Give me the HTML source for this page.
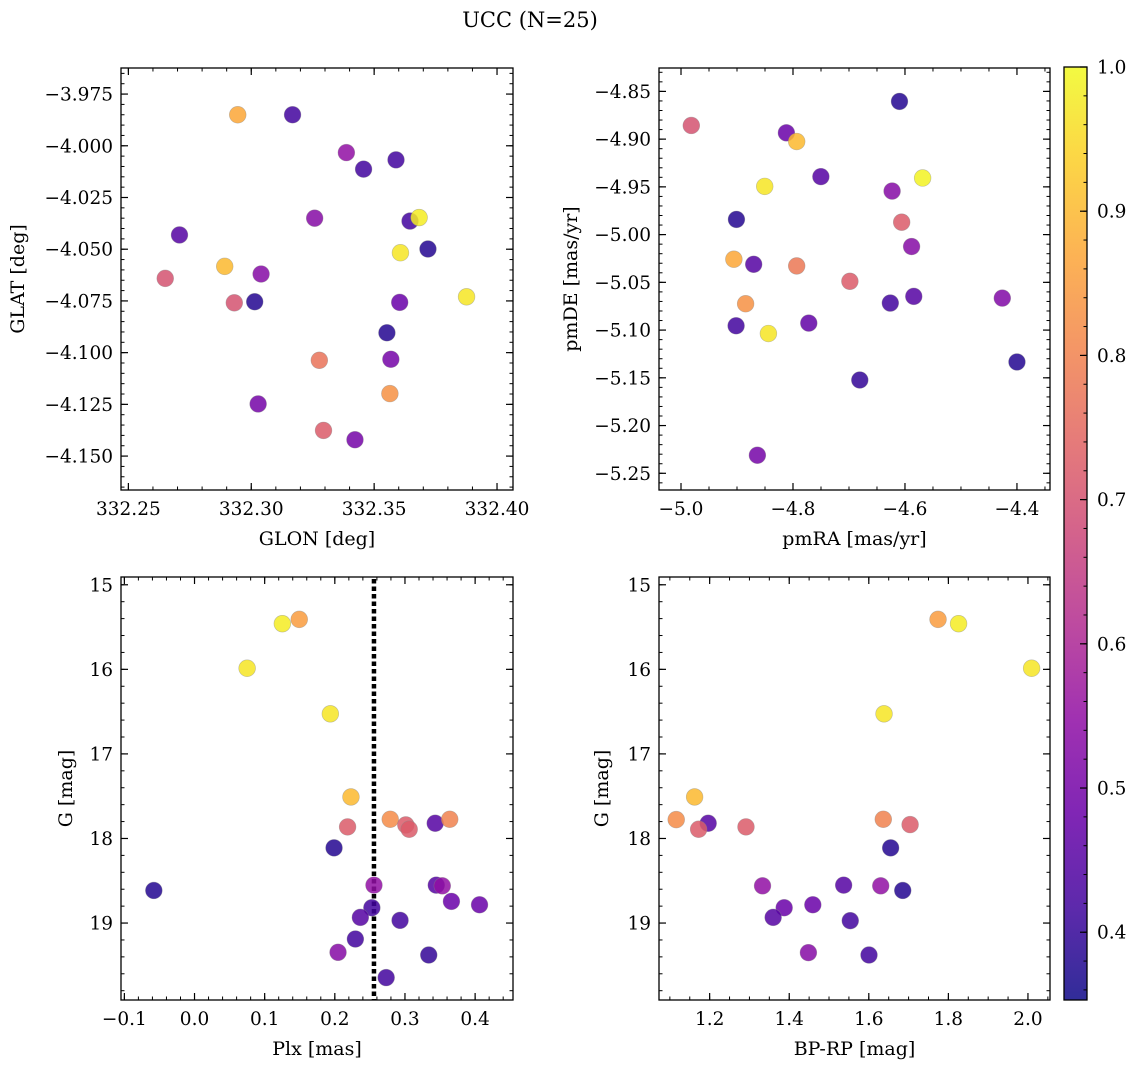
<!DOCTYPE html>
<html><head><meta charset="utf-8"><style>
body{margin:0;background:#fff;}
svg{display:block;font-family:"DejaVu Serif","Liberation Serif",serif;}
</style></head><body>
<svg id="fig" width="1136" height="1067" viewBox="0 0 1136 1067" xmlns="http://www.w3.org/2000/svg">
<defs>
<linearGradient id="plasma" x1="0" y1="1" x2="0" y2="0">
<stop offset="0" stop-color="#0d0887"/><stop offset="0.1" stop-color="#41049d"/><stop offset="0.2" stop-color="#6a00a8"/><stop offset="0.3" stop-color="#8f0da4"/><stop offset="0.4" stop-color="#b12a90"/><stop offset="0.5" stop-color="#cc4778"/><stop offset="0.6" stop-color="#e16462"/><stop offset="0.7" stop-color="#f2844b"/><stop offset="0.8" stop-color="#fca636"/><stop offset="0.9" stop-color="#fcce25"/><stop offset="1" stop-color="#f0f921"/>
</linearGradient>
</defs>
<text x="530" y="27" font-size="21" text-anchor="middle">UCC (N=25)</text>
</svg>
<script>
// ---- data ----
const glon = [332.2945,332.3168,332.3387,332.3589,332.3457,332.3258,332.3646,332.3683,332.2708,332.3719,332.3607,332.2892,332.3040,332.2650,332.2931,332.3014,332.3604,332.3876,332.3552,332.3277,332.3568,332.3564,332.3028,332.3294,332.3422];
const glat = [-3.985,-3.985,-4.0033,-4.0068,-4.0113,-4.035,-4.0364,-4.0347,-4.0431,-4.0499,-4.0517,-4.0583,-4.062,-4.0641,-4.0759,-4.0754,-4.0757,-4.073,-4.0904,-4.1037,-4.1032,-4.1198,-4.1248,-4.1376,-4.1421];
const prob1 = [0.87,0.42,0.55,0.42,0.42,0.53,0.42,0.98,0.45,0.38,0.97,0.9,0.53,0.7,0.7,0.38,0.48,0.97,0.38,0.77,0.5,0.83,0.5,0.72,0.5];
const pmra = [-4.9816,-4.6098,-4.8118,-4.7934,-4.7502,-4.8505,-4.5685,-4.623,-4.901,-4.6059,-4.5882,-4.9056,-4.8702,-4.7934,-4.6984,-4.8846,-4.6262,-4.5843,-4.4262,-4.9016,-4.7718,-4.8439,-4.4,-4.6807,-4.8636];
const pmde = [-4.8857,-4.8605,-4.8934,-4.9025,-4.9393,-4.9495,-4.9407,-4.9544,-4.9841,-4.987,-5.0125,-5.0258,-5.0311,-5.0328,-5.0489,-5.0724,-5.0717,-5.0647,-5.0665,-5.0955,-5.0927,-5.1036,-5.1334,-5.1523,-5.2311];
const prob2 = [0.7,0.38,0.48,0.9,0.45,0.97,0.99,0.53,0.38,0.72,0.53,0.87,0.45,0.78,0.72,0.83,0.42,0.45,0.52,0.42,0.47,0.97,0.38,0.4,0.5];
const plx = [0.1252,0.1493,0.075,0.1936,0.223,0.2182,0.279,0.3012,0.306,0.3431,0.3638,0.1989,-0.058,0.2558,0.3446,0.3532,0.3662,0.4063,0.2528,0.2364,0.293,0.2293,0.2046,0.3339,0.2732];
const gmag3 = [15.46,15.409,15.987,16.526,17.509,17.863,17.773,17.84,17.891,17.82,17.773,18.111,18.615,18.552,18.552,18.56,18.744,18.784,18.819,18.933,18.968,19.189,19.346,19.378,19.645];
const prob3 = [0.98,0.85,0.97,0.97,0.9,0.72,0.82,0.72,0.72,0.45,0.8,0.38,0.38,0.55,0.45,0.55,0.48,0.48,0.42,0.45,0.42,0.42,0.53,0.4,0.42];
const plxRef = [0.2558];
const bprp = [1.774,1.8256,2.0092,1.6383,1.1622,1.116,1.1963,1.1723,1.2913,1.6364,1.7038,1.6549,1.3329,1.5368,1.63,1.6853,1.3873,1.4593,1.3596,1.5534,1.4482,1.6005];
const gmag4 = [15.409,15.46,15.987,16.526,17.509,17.777,17.82,17.891,17.863,17.773,17.836,18.111,18.56,18.552,18.56,18.615,18.819,18.784,18.933,18.972,19.35,19.378];
const prob4 = [0.85,0.98,0.97,0.97,0.9,0.82,0.45,0.72,0.72,0.8,0.72,0.38,0.55,0.45,0.55,0.38,0.48,0.48,0.45,0.42,0.53,0.42];
const cbTicks = [0.4,0.5,0.6,0.7,0.8,0.9,1.0];

const VMIN=0.353, VMAX=1.0;
const NS="http://www.w3.org/2000/svg";
const svg=document.getElementById('fig');
const TICKFS=18.5, LABFS=19;
const stops=[[13,8,135],[65,4,157],[106,0,168],[143,13,164],[177,42,144],[204,71,120],[225,100,98],[242,132,75],[252,166,54],[252,206,37],[240,249,33]];
function plasma(v){let t=(v-VMIN)/(VMAX-VMIN);t=Math.max(0,Math.min(1,t))*10;const i=Math.min(9,Math.floor(t)),f=t-i;const a=stops[i],b=stops[i+1];return 'rgb('+[0,1,2].map(k=>Math.round(a[k]+(b[k]-a[k])*f)).join(',')+')';}
function el(tag,attrs,parent){const e=document.createElementNS(NS,tag);for(const k in attrs)e.setAttribute(k,attrs[k]);(parent||svg).appendChild(e);return e;}
function fmt(v,d){const s=Math.abs(v).toFixed(d);return (v<-1e-9?'\u2212':'')+s;}

function panel(cfg){
  const g=el('g',{});
  
  
  const {L,R,T,B,x0,x1,y0,y1}=cfg;
  const sx=v=>L+(v-x0)/(x1-x0)*(R-L);
  const sy=cfg.invert? (v=>T+(v-y0)/(y1-y0)*(B-T)) : (v=>B-(v-y0)/(y1-y0)*(B-T));
  function ticks(min,max,step){const a=[];const s=Math.ceil(min/step-1e-6);for(let i=s;i*step<=max+1e-9;i++)a.push(i*step);return a;}
  const xlo=Math.min(x0,x1),xhi=Math.max(x0,x1),ylo=Math.min(y0,y1),yhi=Math.max(y0,y1);
  ticks(xlo,xhi,cfg.xminor).forEach(v=>{const x=sx(v);el('line',{x1:x,y1:B,x2:x,y2:B-3.5,stroke:'#000','stroke-width':1},g);el('line',{x1:x,y1:T,x2:x,y2:T+3.5,stroke:'#000','stroke-width':1},g);});
  ticks(ylo,yhi,cfg.yminor).forEach(v=>{const y=sy(v);el('line',{x1:L,y1:y,x2:L+3.5,y2:y,stroke:'#000','stroke-width':1},g);el('line',{x1:R,y1:y,x2:R-3.5,y2:y,stroke:'#000','stroke-width':1},g);});
  ticks(xlo,xhi,cfg.xmajor).forEach(v=>{const x=sx(v);el('line',{x1:x,y1:B,x2:x,y2:B-7,stroke:'#000','stroke-width':1.2},g);el('line',{x1:x,y1:T,x2:x,y2:T+7,stroke:'#000','stroke-width':1.2},g);
    const t=el('text',{x:x,y:B+25,'font-size':TICKFS,'text-anchor':'middle'},g);t.textContent=fmt(v,cfg.xd);
    
    });
  ticks(ylo,yhi,cfg.ymajor).forEach(v=>{const y=sy(v);el('line',{x1:L,y1:y,x2:L+7,y2:y,stroke:'#000','stroke-width':1.2},g);el('line',{x1:R,y1:y,x2:R-7,y2:y,stroke:'#000','stroke-width':1.2},g);
    const t=el('text',{x:L-8,y:y+6.5,'font-size':TICKFS,'text-anchor':'end'},g);t.textContent=fmt(v,cfg.yd);
    
    });
  if(cfg.vline!==undefined){const x=sx(cfg.vline);const ln=el('line',{x1:x,y1:T+2,x2:x,y2:B,stroke:'#000','stroke-width':4.5,'stroke-dasharray':'4.5,3'},g);
    
    }
  cfg.xs.forEach((xv,i)=>{const c=el('circle',{cx:sx(xv),cy:sy(cfg.ys[i]),r:8.4,fill:plasma(cfg.cs[i]),'fill-opacity':0.85,stroke:'#888','stroke-opacity':0.5,'stroke-width':0.6},g);
    
    });
  const fr=el('rect',{x:L,y:T,width:R-L,height:B-T,fill:'none',stroke:'#000','stroke-width':1.3},g);
  
  
  const xl=el('text',{x:(L+R)/2,y:cfg.xly,'font-size':LABFS,'text-anchor':'middle'},g);xl.textContent=cfg.xlabel;
  
  
  const yl=el('text',{x:0,y:0,'font-size':LABFS,'text-anchor':'middle',transform:'translate('+cfg.ylx+','+(T+B)/2+') rotate(-90)'},g);yl.textContent=cfg.ylabel;
  
  
}

panel({name:'glon-glat-panel',L:121,R:513,T:68,B:490,x0:332.247,x1:332.4065,y0:-4.1664,y1:-3.9624,xmajor:0.05,xminor:0.01,ymajor:0.025,yminor:0.005,xd:2,yd:3,xs:glon,ys:glat,cs:prob1,xlabel:'GLON [deg]',ylabel:'GLAT [deg]',xly:545,ylx:24});
panel({name:'proper-motion-panel',L:659,R:1050,T:68,B:490,x0:-5.0393,x1:-4.341,y0:-5.2675,y1:-4.8255,xmajor:0.2,xminor:0.05,ymajor:0.05,yminor:0.01,xd:1,yd:2,xs:pmra,ys:pmde,cs:prob2,xlabel:'pmRA [mas/yr]',ylabel:'pmDE [mas/yr]',xly:545,ylx:577});
panel({name:'plx-g-panel',L:121,R:513,T:577,B:1000,x0:-0.1048,x1:0.454,y0:14.908,y1:19.91,invert:true,xmajor:0.1,xminor:0.02,ymajor:1,yminor:0.2,xd:1,yd:0,xs:plx,ys:gmag3,cs:prob3,vline:plxRef[0],xlabel:'Plx [mas]',ylabel:'G [mag]',xly:1055,ylx:72});
panel({name:'cmd-panel',L:659,R:1050,T:577,B:1000,x0:1.0727,x1:2.0554,y0:14.908,y1:19.91,invert:true,xmajor:0.2,xminor:0.05,ymajor:1,yminor:0.2,xd:1,yd:0,xs:bprp,ys:gmag4,cs:prob4,xlabel:'BP-RP [mag]',ylabel:'G [mag]',xly:1055,ylx:608});

// colorbar
(function(){
  const L=1064,R=1087,T=67,B=1000;
  const g=el('g',{});
  
  
  el('rect',{x:L,y:T,width:R-L,height:B-T,fill:'url(#plasma)','fill-opacity':0.85},g);
  const sy=v=>B-(v-VMIN)/(VMAX-VMIN)*(B-T);
  for(let v=0.36;v<=1.0001;v+=0.02){const y=sy(v);el('line',{x1:R,y1:y,x2:R-3.5,y2:y,stroke:'#000','stroke-width':1},g);}
  cbTicks.forEach(v=>{const y=sy(v);el('line',{x1:R,y1:y,x2:R-7,y2:y,stroke:'#000','stroke-width':1.2},g);
    const t=el('text',{x:R+10,y:y+6.5,'font-size':TICKFS},g);t.textContent=v.toFixed(1);
    
    });
  el('rect',{x:L,y:T,width:R-L,height:B-T,fill:'none',stroke:'#000','stroke-width':1.3},g);
})();
</script>
</body></html>
